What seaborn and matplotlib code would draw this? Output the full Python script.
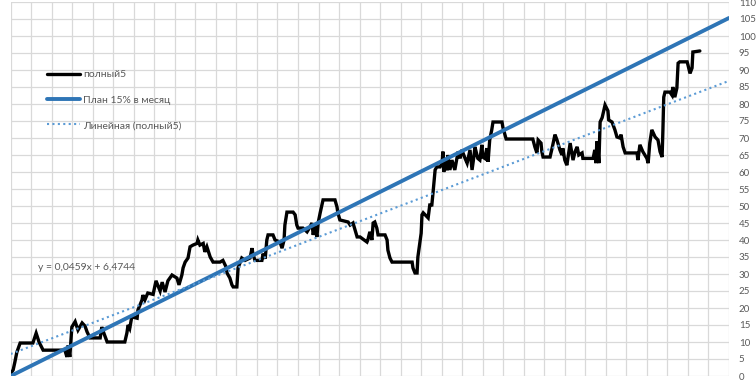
import numpy as np
import pandas as pd
import matplotlib
matplotlib.use("Agg")
import matplotlib.pyplot as plt
import seaborn as sns

# ---- data ----
n_categories = 1750
fact_idx = [1, 6, 10, 15, 23, 54, 62, 69, 79, 132, 137, 140, 144, 149, 157, 164, 174, 181, 186, 193,
            218, 222, 227, 235, 278, 283, 286, 290, 295, 308, 310, 320, 322, 327, 334, 347, 354, 364,
            369, 376, 383, 393, 405, 410, 417, 420, 425, 432, 437, 444, 454, 456, 461, 469, 473, 478,
            486, 493, 510, 517, 525, 527, 534, 539, 542, 551, 554, 563, 571, 583, 588, 590, 595, 612,
            615, 620, 624, 627, 639, 644, 656, 661, 666, 668, 673, 688, 693, 697, 700, 712, 722, 729,
            734, 737, 741, 746, 749, 754, 761, 790, 795, 797, 802, 822, 827, 834, 839, 844, 851, 868,
            870, 875, 880, 883, 887, 892, 895, 912, 917, 919, 924, 929, 978, 980, 985, 990, 992, 995,
            1000, 1002, 1005, 1017, 1021, 1026, 1029, 1034, 1038, 1046, 1051, 1053, 1055, 1060, 1063,
            1065, 1070, 1075, 1082, 1090, 1095, 1099, 1107, 1112, 1119, 1124, 1129, 1131, 1138, 1143,
            1148, 1150, 1155, 1160, 1163, 1167, 1172, 1175, 1197, 1199, 1207, 1272, 1277, 1282, 1285,
            1292, 1294, 1297, 1314, 1319, 1326, 1331, 1338, 1343, 1345, 1350, 1355, 1363, 1370, 1375,
            1380, 1384, 1392, 1394, 1419, 1423, 1426, 1428, 1431, 1433, 1436, 1441, 1448, 1455, 1457,
            1465, 1472, 1477, 1484, 1487, 1492, 1497, 1526, 1528, 1533, 1540, 1550, 1553, 1557, 1562,
            1570, 1577, 1582, 1587, 1589, 1591, 1594, 1606, 1611, 1613, 1618, 1623, 1626, 1630, 1648,
            1650, 1655, 1660, 1662, 1679]
fact_val = [0.9, 1.8, 4, 7, 9.7, 9.7, 12.6, 10, 7.6, 7.6, 5.6, 9, 5.6, 14.4, 16, 13.5, 15.6, 14.7, 13, 11.2,
            11.2, 14.4, 12.6, 10, 10, 12.6, 15, 14, 17.4, 17, 19.4, 22.4, 23.8, 22.4, 24.4, 24, 28, 25,
            27.6, 24.7, 28, 29.7, 28.8, 26.8, 29.7, 31.8, 33.5, 34.7, 38, 38.5, 39, 40, 38.5, 39, 36.5, 38,
            35, 33.5, 33.5, 34, 32, 30.3, 28.8, 26.8, 26.2, 26.2, 31.8, 34.7, 34, 34.7, 37.6, 36, 34, 34,
            36, 34.5, 40, 41.5, 41.5, 40, 39.4, 37.6, 40, 44.4, 48.2, 48.2, 47.4, 44.4, 43.5, 43.5, 42.4, 43.8,
            45, 41.5, 44, 40.9, 45, 48, 51.8, 51.8, 49.7, 48, 45.9, 45.3, 44.4, 45, 43, 40.9, 40.9, 39.4,
            40, 42.4, 40, 45, 45.3, 43.5, 41.5, 41.5, 40, 37, 34.7, 33.5, 33.5, 31.8, 30.3, 30.3, 35, 37.6,
            42, 47.4, 48, 46.5, 50.3, 50.3, 54, 60.6, 61.5, 61.5, 62.6, 66, 60, 64, 60.5,
            65, 60.6, 63.5, 60.6, 66, 64, 66.5, 64, 62.6, 66.5, 60.6, 65, 67.4, 64, 63.5,
            68, 64.4, 64, 67, 63, 69.4, 72.4, 74.7, 74.7, 73.2, 69.7, 69.7, 67.4, 65.6, 69.4,
            68.5, 66, 64.4, 64.4, 67, 71, 69.4, 66.5, 65, 67, 63.5, 62, 68.5, 63.5, 66,
            67.4, 65, 65.6, 64, 64, 66.5, 62.6, 69, 66, 62.6, 74.7, 76, 79.7, 78, 75.3,
            74.7, 72.4, 70.3, 70, 71, 67.4, 65.6, 65.6, 63.5, 68, 66, 64, 62.6, 68.5, 72.4,
            70.3, 69.4, 66, 64.4, 72.4, 82, 83.5, 83.5, 82.6, 85, 82, 84.7, 92, 92.4, 92.4,
            91.5, 89, 90.6, 95.3, 95.6]

plan_idx = [0, 1750]
plan_val = [0, 105.3]

trend_slope = 0.0459
trend_intercept = 6.4744
trend_idx = [0, 1750]

series_names = ["полный5", "План 15% в месяц", "Линейная (полный5)"]
equation_label = "y = 0,0459x + 6,4744"
y_ticks = list(range(0, 111, 5))

# ---- figure ----
sns.set_style("white")
plt.rcParams['font.family'] = ['Lato', 'DejaVu Sans']

fig = plt.figure(figsize=(7.56, 3.82), dpi=100)
ax = fig.add_axes([10.7 / 756, 1 - 376 / 382, (729 - 10.7) / 756, (376 - 2) / 382])

grid_c = "#D9D9D9"
text_c = "#595959"

df_fact = pd.DataFrame({"x": fact_idx, "y": fact_val})
df_plan = pd.DataFrame({"x": plan_idx, "y": plan_val})
df_trend = pd.DataFrame({"x": trend_idx,
                         "y": [trend_slope * v + trend_intercept for v in trend_idx]})

sns.lineplot(data=df_fact, x="x", y="y", ax=ax, color="black", linewidth=2.4,
             label=series_names[0], zorder=3, solid_joinstyle="miter")
sns.lineplot(data=df_plan, x="x", y="y", ax=ax, color="#2E75B6", linewidth=2.8,
             label=series_names[1], zorder=4)
sns.lineplot(data=df_trend, x="x", y="y", ax=ax, color="#5B9BD5", linewidth=1.5,
             linestyle=(0, (1, 1.6)), label=series_names[2], zorder=5)

ax.set_xlim(0, n_categories)
ax.set_ylim(0, 110)
ax.set_xticks(range(0, n_categories + 1, 50))
ax.set_yticks(y_ticks)
ax.set_xticklabels([])
ax.yaxis.tick_right()
ax.tick_params(axis="y", length=0, pad=7, labelsize=7, labelcolor=text_c)
ax.tick_params(axis="x", length=0)
ax.grid(True, color=grid_c, linewidth=0.9)
ax.set_axisbelow(True)
for s in ax.spines.values():
    s.set_visible(False)
ax.set_xlabel("")
ax.set_ylabel("")

leg = ax.legend(loc="center left", bbox_to_anchor=(47 / 756, 1 - 100 / 382),
                bbox_transform=fig.transFigure, frameon=False, fontsize=7.5,
                handlelength=3.2, handletextpad=0.25, labelspacing=1.55,
                borderpad=0, borderaxespad=0)
for t in leg.get_texts():
    t.set_color(text_c)

fig.text(38 / 756, 1 - 268 / 382, equation_label, fontsize=7.5, color=text_c,
         ha="left", va="center")

fig.savefig("out.png", dpi=100)
